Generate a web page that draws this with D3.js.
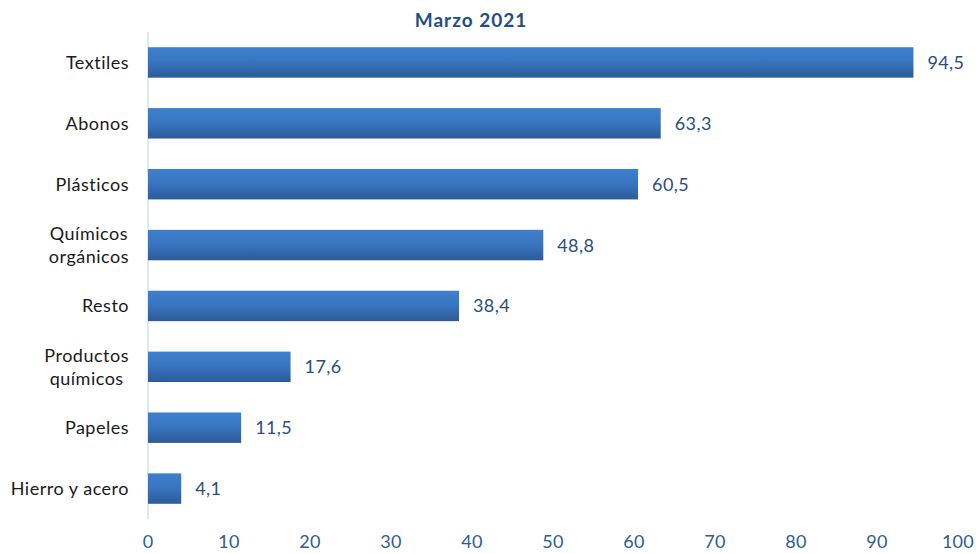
<!DOCTYPE html>
<html><head><meta charset="utf-8">
<script src="https://cdn.jsdelivr.net/npm/d3@7"></script>
<style>body{margin:0;background:#fff}svg{display:block}</style>
</head><body>
<svg id="c" width="976" height="553"></svg>
<script>
const categories = [["Textiles"],["Abonos"],["Plásticos"],["Químicos","orgánicos"],["Resto"],["Productos","químicos"],["Papeles"],["Hierro y acero"]];
const values = [94.5, 63.3, 60.5, 48.8, 38.4, 17.6, 11.5, 4.1];
const ticks = [0,10,20,30,40,50,60,70,80,90,100];
const title = "Marzo 2021";

const svg = d3.select("#c");
const FONT = "Lato, 'Open Sans', sans-serif";
const x = d3.scaleLinear().domain([0,100]).range([148,958]);
const y = d3.scaleBand().domain(d3.range(categories.length)).range([32,519]).paddingInner(0.5).paddingOuter(0.25);

const defs = svg.append("defs");
const g = defs.append("linearGradient").attr("id","bg").attr("x1",0).attr("y1",0).attr("x2",0).attr("y2",1);
g.append("stop").attr("offset","0%").attr("stop-color","#3e7fcc");
g.append("stop").attr("offset","45%").attr("stop-color","#3976c2");
g.append("stop").attr("offset","100%").attr("stop-color","#2c5b98");

svg.append("text").attr("x",471).attr("y",27).attr("text-anchor","middle")
  .attr("font-family",FONT).attr("font-weight","bold").attr("font-size",19).attr("letter-spacing",1)
  .attr("fill","#1f4e85").text(title);

// axis line
svg.append("line").attr("x1",x(0)).attr("x2",x(0)).attr("y1",32).attr("y2",519)
  .attr("stroke","#cfe0f3").attr("stroke-width",1.5);

svg.selectAll("rect.bar").data(values).join("rect").attr("class","bar")
  .attr("x",x(0)).attr("y",(d,i)=>y(i)).attr("width",d=>x(d)-x(0)).attr("height",y.bandwidth())
  .attr("fill","url(#bg)");

svg.selectAll("text.val").data(values).join("text").attr("class","val")
  .attr("x",d=>x(d)+14).attr("y",(d,i)=>y(i)+y.bandwidth()/2).attr("dy","0.36em")
  .attr("font-family",FONT).attr("font-size",18).attr("letter-spacing",0.4).attr("fill","#2a4d7c")
  .text(d=>d3.format(".1f")(d).replace(".",","));

// category labels
categories.forEach((lines,i)=>{
  const cy = y(i)+y.bandwidth()/2;
  const t = svg.append("text").attr("font-family",FONT).attr("font-size",18).attr("letter-spacing",0.5).attr("fill","#1a1a1a");
  const lh = 23;
  const spans = lines.map((l,k)=>t.append("tspan").attr("y",cy+(k-(lines.length-1)/2)*lh).attr("dy","0.36em").text(l));
  const widths = spans.map(s=>s.node().getComputedTextLength());
  const w = Math.max(...widths);
  const cx = 129 - w/2;
  spans.forEach(s=>s.attr("x",cx).attr("text-anchor","middle"));
});

// x axis tick labels
svg.selectAll("text.tick").data(ticks).join("text").attr("class","tick")
  .attr("x",d=>x(d)).attr("y",548).attr("text-anchor","middle")
  .attr("font-family",FONT).attr("font-size",18).attr("letter-spacing",0.3).attr("fill","#2e5c93").text(d=>d);
</script>
</body></html>
